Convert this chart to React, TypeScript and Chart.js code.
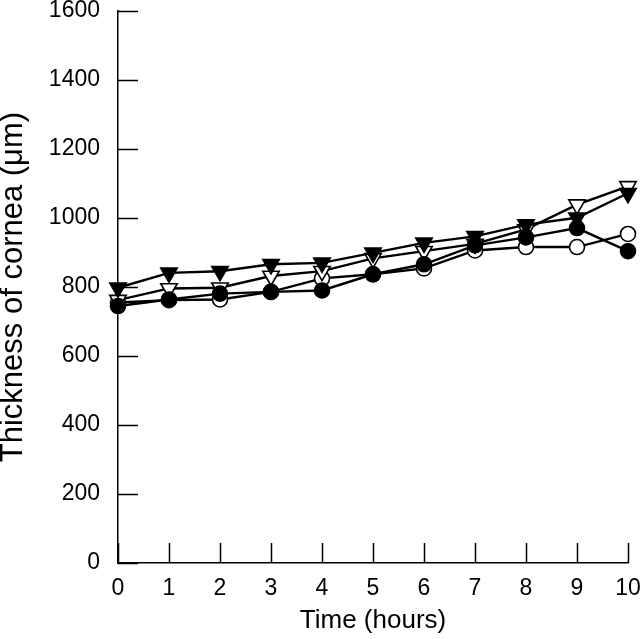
import React, { useEffect, useRef } from "react";
import { Chart, registerables } from "chart.js";

Chart.register(...registerables);

const hours = [0, 1, 2, 3, 4, 5, 6, 7, 8, 9, 10];
const filledTriangle = [798, 841, 846, 866, 870, 899, 928, 947, 981, 1001, 1072];
const filledCircle = [745, 764, 781, 786, 790, 837, 866, 921, 944, 971, 904];
const openTriangle = [762, 796, 798, 832, 846, 883, 904, 925, 967, 1039, 1092];
const openCircle = [755, 762, 764, 786, 825, 837, 854, 906, 916, 916, 954];

const xTitle = "Time (hours)";
const yTitle = "Thickness of cornea (\u03bcm)";

const FONT = "'Liberation Sans', Arial, Helvetica, sans-serif";

const inwardTicks = {
  id: "inwardTicks",
  afterDraw(chart: any) {
    const { ctx, chartArea, scales } = chart;
    const len = 20;
    ctx.save();
    ctx.strokeStyle = "#000";
    ctx.lineWidth = 1.5;
    ctx.beginPath();
    scales.x.ticks.forEach((t: any) => {
      const px = Math.round(scales.x.getPixelForValue(t.value)) + 0.5;
      ctx.moveTo(px, chartArea.bottom);
      ctx.lineTo(px, chartArea.bottom - len);
    });
    scales.y.ticks.forEach((t: any) => {
      const py = Math.round(scales.y.getPixelForValue(t.value)) + 0.5;
      ctx.moveTo(chartArea.left, py);
      ctx.lineTo(chartArea.left + len, py);
    });
    ctx.stroke();
    ctx.restore();
  },
};

function series(values: number[], style: string, filled: boolean) {
  const tri = style === "triangle";
  return {
    data: hours.map((h, i) => ({ x: h, y: values[i] })),
    borderColor: "#000",
    borderWidth: 2.4,
    pointStyle: style,
    rotation: tri ? 180 : 0,
    pointRadius: tri ? 9.5 : 7.5,
    pointBorderWidth: 1.6,
    pointBorderColor: "#000",
    pointBackgroundColor: filled ? "#000" : "#fff",
    fill: false,
    tension: 0,
    clip: false,
  };
}

function zeroPad(scale: any) {
  scale.paddingTop = 0;
  scale.paddingBottom = 0;
  scale.paddingLeft = 0;
  scale.paddingRight = 0;
}

export default function App() {
  const ref = useRef<HTMLCanvasElement | null>(null);
  useEffect(() => {
    document.body.style.margin = "0";
    const canvas = ref.current!;
    const chart = new Chart(canvas, {
      type: "line",
      data: {
        datasets: [
          series(filledTriangle, "triangle", true),
          series(filledCircle, "circle", true),
          series(openTriangle, "triangle", false),
          series(openCircle, "circle", false),
        ] as any,
      },
      options: {
        animation: false,
        responsive: false,
        layout: { padding: { top: 9, right: 12, left: 0, bottom: 0 } },
        plugins: { legend: { display: false }, tooltip: { enabled: false } },
        scales: {
          x: {
            type: "linear",
            min: 0,
            max: 10,
            afterFit(scale: any) {
              scale.height = 76;
              zeroPad(scale);
            },
            ticks: {
              stepSize: 1,
              color: "#000",
              font: { family: FONT, size: 23 },
              padding: 12,
              callback: (v: any) => String(v),
            },
            grid: { display: false, drawTicks: false },
            border: { display: true, color: "#000", width: 1.5 },
            title: {
              display: true,
              text: xTitle,
              color: "#000",
              font: { family: FONT, size: 26 },
              padding: { top: 0, bottom: 3 },
            },
          },
          y: {
            type: "linear",
            min: 0,
            max: 1600,
            afterFit(scale: any) {
              scale.width = 118;
              zeroPad(scale);
            },
            ticks: {
              stepSize: 200,
              color: "#000",
              font: { family: FONT, size: 23 },
              padding: 18,
              callback: (v: any) => String(v),
            },
            grid: { display: false, drawTicks: false },
            border: { display: true, color: "#000", width: 1.5 },
            title: {
              display: true,
              text: yTitle,
              color: "#000",
              font: { family: FONT, size: 31, lineHeight: 0.85 },
              padding: { top: 0, bottom: 0 },
            },
          },
        },
      } as any,
      plugins: [inwardTicks],
    });
    return () => chart.destroy();
  }, []);
  return <canvas ref={ref} width={640} height={639} style={{ display: "block" }} />;
}
